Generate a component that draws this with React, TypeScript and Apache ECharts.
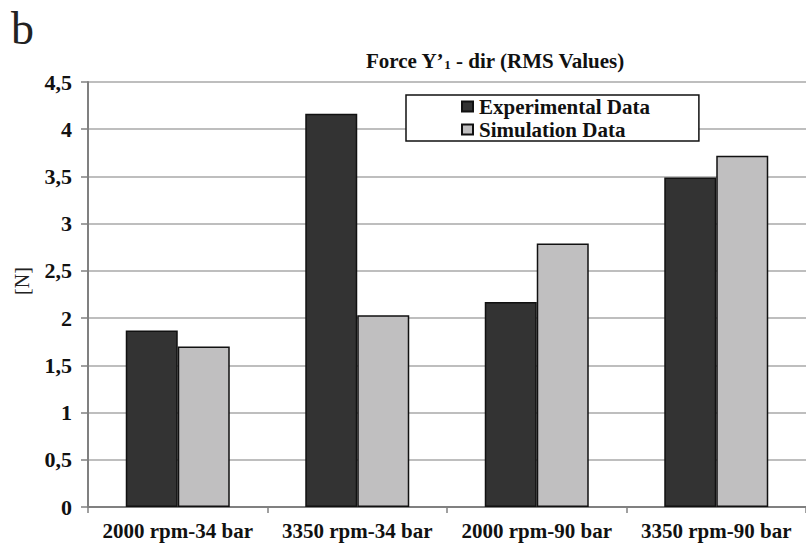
import React, { useEffect, useRef } from "react";
import * as echarts from "echarts";

const categories = ["2000 rpm-34 bar", "3350 rpm-34 bar", "2000 rpm-90 bar", "3350 rpm-90 bar"];
const experimental = [1.87, 4.165, 2.17, 3.49];
const simulation = [1.70, 2.03, 2.79, 3.72];
const seriesNames = ["Experimental Data", "Simulation Data"];

const FONT = "'Liberation Serif', 'Times New Roman', serif";

export default function App() {
  const ref = useRef<HTMLDivElement>(null);
  useEffect(() => {
    if (!ref.current) return;
    const chart = echarts.init(ref.current, undefined, { renderer: "svg" });
    chart.setOption({
      animation: false,
      backgroundColor: "#ffffff",
      title: {
        text: "Force Y’{s|1} - dir (RMS Values)",
        left: 366,
        top: 50,
        padding: 0,
        textStyle: {
          fontFamily: FONT,
          fontWeight: "bold",
          fontSize: 21,
          color: "#111",
          rich: {
            s: { fontFamily: FONT, fontWeight: "bold", fontSize: 13, color: "#111", verticalAlign: "bottom", padding: [6, 0, 0, 0] },
          },
        },
      },
      legend: {
        orient: "vertical",
        left: 406,
        top: 95,
        padding: [1, 49, 1, 55],
        itemGap: 2,
        itemWidth: 11,
        itemHeight: 10,
        icon: "rect",
        backgroundColor: "#ffffff",
        borderColor: "#111",
        borderWidth: 1.5,
        borderRadius: 0,
        textStyle: { fontFamily: FONT, fontWeight: "bold", fontSize: 21, color: "#111", padding: [0, 0, 0, 1] },
        data: seriesNames,
      },
      grid: { left: 88, right: -2, top: 82, bottom: 39, containLabel: false },
      xAxis: {
        type: "category",
        data: categories,
        axisLine: { show: true, lineStyle: { color: "#808080", width: 2 } },
        axisTick: { show: true, length: 6, lineStyle: { color: "#808080", width: 1.5 } },
        axisLabel: { interval: 0, fontFamily: FONT, fontWeight: "bold", fontSize: 21, color: "#111", margin: 13 },
      },
      yAxis: {
        type: "value",
        min: 0,
        max: 4.5,
        interval: 0.5,
        axisLine: { show: true, lineStyle: { color: "#808080", width: 2 } },
        axisTick: { show: true, length: 7, lineStyle: { color: "#808080", width: 1.5 } },
        axisLabel: {
          fontFamily: FONT,
          fontWeight: "bold",
          fontSize: 22,
          color: "#111",
          margin: 16,
          formatter: (v: number) => String(v).replace(".", ","),
        },
        splitLine: { show: true, lineStyle: { color: "#a8a8a8", width: 1.5 } },
      },
      graphic: [
        {
          type: "text",
          left: 11,
          top: 5,
          style: { text: "b", fontFamily: FONT, fontSize: 46, fill: "#222" },
        },
        {
          type: "text",
          x: 22,
          y: 281,
          rotation: Math.PI / 2,
          style: { text: "[N]", fontFamily: FONT, fontSize: 20, fill: "#222", align: "center", verticalAlign: "middle" },
        },
      ],
      series: [
        {
          name: seriesNames[0],
          type: "bar",
          data: experimental,
          barWidth: 52,
          barGap: "0%",
          itemStyle: { color: "#333333", borderColor: "#111", borderWidth: 1.5 },
        },
        {
          name: seriesNames[1],
          type: "bar",
          data: simulation,
          barWidth: 52,
          barGap: "0%",
          itemStyle: { color: "#c0bfc0", borderColor: "#111", borderWidth: 1.5 },
        },
      ],
    });
    return () => chart.dispose();
  }, []);
  return <div ref={ref} style={{ width: 806, height: 546, position: "absolute", left: 0, top: 0 }} />;
}
